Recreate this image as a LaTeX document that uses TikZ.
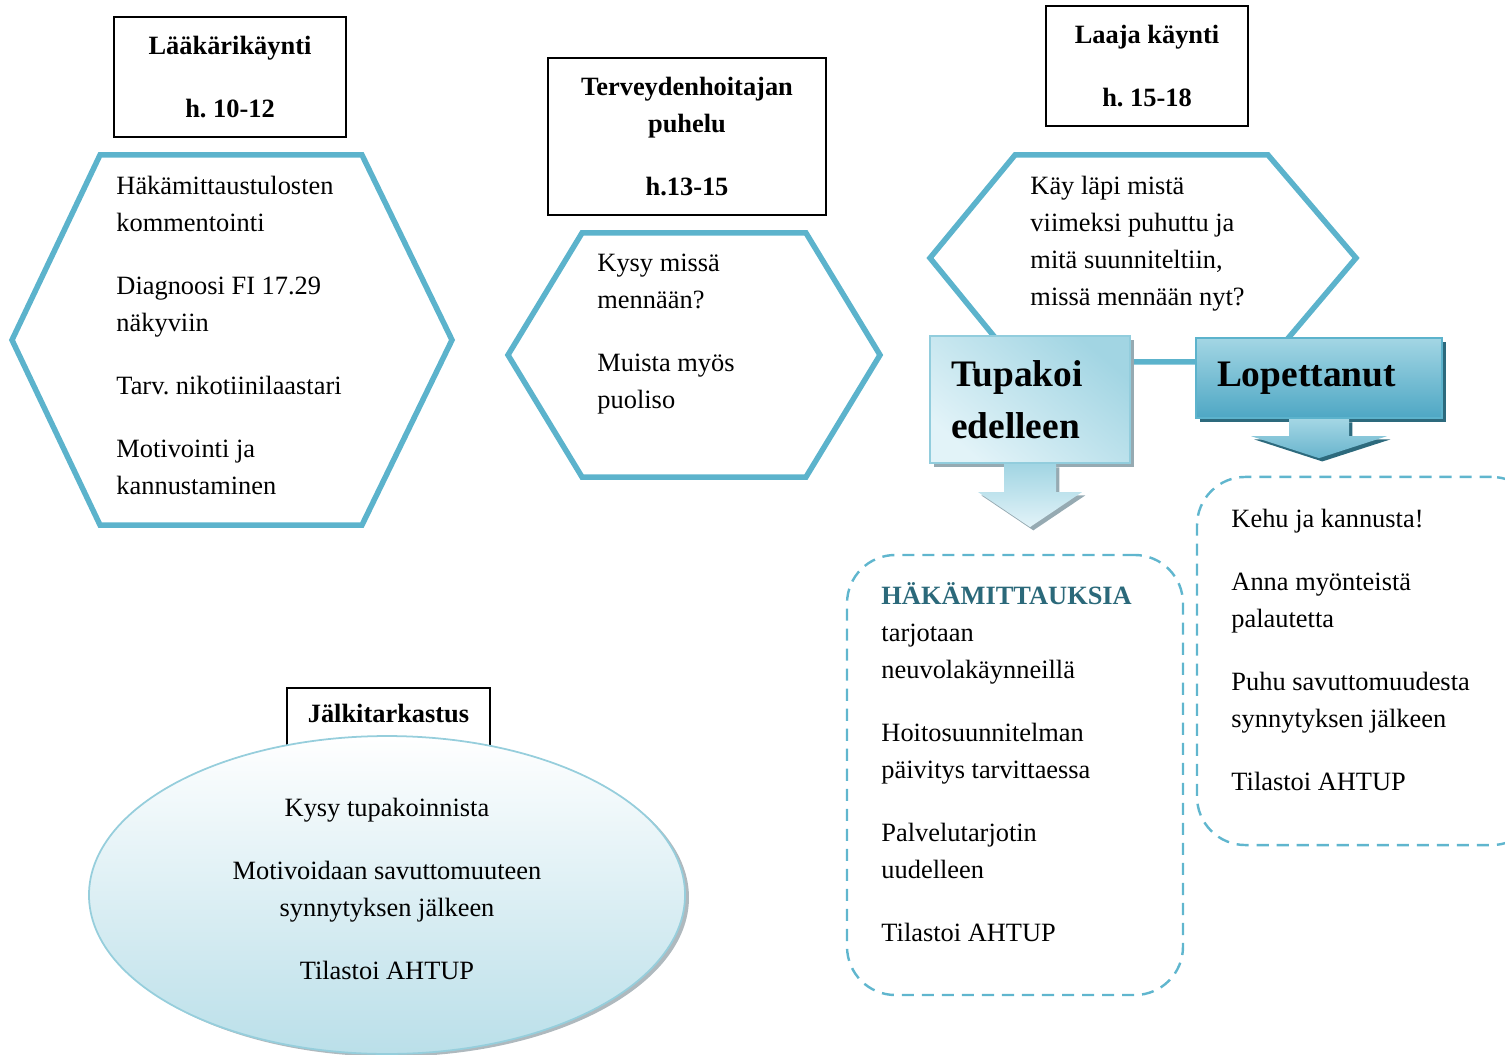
\documentclass[tikz,border=0pt]{standalone}
\usepackage{fontspec}
\setmainfont{Liberation Serif}
\usepackage{tikz}
\usetikzlibrary{positioning}
\usetikzlibrary{calc}
\usetikzlibrary{shapes.geometric}
\usetikzlibrary{shadows}
\frenchspacing

\definecolor{hexline}{RGB}{92,179,204}
\definecolor{katkoline}{RGB}{96,182,206}
\definecolor{otsikkovari}{RGB}{43,105,122}
\definecolor{tupvaalea}{RGB}{226,243,248}
\definecolor{tuptumma}{RGB}{162,213,227}
\definecolor{tupraja}{RGB}{146,205,221}
\definecolor{tupvarjo}{RGB}{150,170,178}
\definecolor{lopylä}{RGB}{163,214,228}
\definecolor{lopala}{RGB}{78,167,196}
\definecolor{lopvarjo}{RGB}{45,106,125}
\definecolor{ellpohja}{RGB}{186,223,233}
\definecolor{ellraja}{RGB}{150,206,220}
\definecolor{ellvarjo}{RGB}{175,185,190}

\newcommand\perus{\fontsize{12}{16.8}\selectfont}

\tikzset{
  otsikko/.style={draw, line width=0.9pt, font=\perus\bfseries, align=center, inner sep=0pt},
  hexa/.style={draw=hexline, line width=2.5pt, line join=miter},
  teksti/.style={font=\perus, align=left, anchor=north west, inner sep=0pt, execute at begin node=\strut},
  katko/.style={draw=katkoline, line width=1.1pt, dash pattern=on 5.5pt off 3.6pt, rounded corners=22pt, inner sep=0pt},
  iso/.style={font=\fontsize{17}{23.6}\selectfont\bfseries, align=left},
}

\begin{document}
\begin{tikzpicture}[x=0.4545pt, y=-0.4545pt]
\useasboundingbox (0,0) rectangle (1505,1055);

\draw[hexa] (12,340) -- (100,155) -- (362,155) -- (452,340) -- (362,525) -- (100,525) -- cycle;
\draw[hexa] (508,355) -- (582,233) -- (806,233) -- (880,355) -- (806,477) -- (582,477) -- cycle;
\draw[hexa] (930,258) -- (1015,155) -- (1268,155) -- (1356,258) -- (1268,362) -- (1015,362) -- cycle;

\node (laak)  [otsikko, minimum width=105.5pt, minimum height=54.5pt] at (230,77)    {Lääkärikäynti\\[11.8pt]h. 10-12};
\node (terv)  [otsikko, minimum width=126.4pt, minimum height=71.4pt] at (687,136.5) {Terveydenhoitajan\\puhelu\\[11.8pt]h.13-15};
\node (laaja) [otsikko, minimum width=91.8pt, minimum height=54.5pt]  at (1147,66)   {Laaja käynti\\[11.8pt]h. 15-18};

\node (hex1) [teksti] at (116,176) {Häkämittaustulosten\\kommentointi\\[11.8pt]Diagnoosi FI 17.29\\näkyviin\\[11.8pt]Tarv. nikotiinilaastari\\[11.8pt]Motivointi ja\\kannustaminen};
\node (hex2) [teksti] at (597,254) {Kysy missä\\mennään?\\[11.8pt]Muista myös\\puoliso};
\node (hex3) [teksti] at (1030,176) {Käy läpi mistä\\viimeksi puhuttu ja\\mitä suunniteltiin,\\missä mennään nyt?};

\node (tup) [iso, draw=tupraja, line width=1pt, top color=tuptumma, bottom color=tupvaalea, shading angle=-40,
  drop shadow={shadow xshift=1.8pt, shadow yshift=-1.8pt, fill=tupvarjo, opacity=1},
  minimum width=90.9pt, minimum height=57.7pt, text width=71.8pt] at (1030,399.5) {Tupakoi\\edelleen};
\node (lop) [iso, draw=hexline, line width=1pt, top color=lopylä, bottom color=lopala,
  drop shadow={shadow xshift=1.8pt, shadow yshift=-1.8pt, fill=lopvarjo, opacity=1},
  minimum width=111.8pt, minimum height=36.4pt, text width=92.7pt] at (1319,378) {Lopettanut};

\path[top color=tuptumma, bottom color=tupvaalea, drop shadow={shadow xshift=1.5pt, shadow yshift=-1.5pt, fill=tupvarjo, opacity=1}]
  ($(tup.south)+(-26,0)$) -- ($(tup.south)+(-26,28)$) -- ++(-26,0) -- ($(tup.south)+(0,63)$)
  -- ($(tup.south)+(52,28)$) -- ++(-26,0) -- ($(tup.south)+(26,0)$) -- cycle;
\path[top color=lopylä, bottom color=lopala!85, drop shadow={shadow xshift=1.5pt, shadow yshift=-1.5pt, fill=lopvarjo, opacity=1}]
  ($(lop.south)+(-30,0)$) -- ($(lop.south)+(-30,17)$) -- ++(-38,0) -- ($(lop.south)+(0,39)$)
  -- ($(lop.south)+(68,17)$) -- ++(-38,0) -- ($(lop.south)+(30,0)$) -- cycle;

\node (haka) [katko, minimum width=152.7pt, minimum height=200pt] at (1015,775) {};
\node (hakateksti) [teksti] at (881,582) {\textcolor{otsikkovari}{\textbf{HÄKÄMITTAUKSIA}}\\tarjotaan\\neuvolakäynneillä\\[11.8pt]Hoitosuunnitelman\\päivitys tarvittaessa\\[11.8pt]Palvelutarjotin\\uudelleen\\[11.8pt]Tilastoi AHTUP};

\node (kehu) [katko, minimum width=155.9pt, minimum height=167.3pt] at (1368.5,661) {};
\node (kehuteksti) [teksti] at (1231,509) {Kehu ja kannusta!\\[11.8pt]Anna myönteistä\\palautetta\\[11.8pt]Puhu savuttomuudesta\\synnytyksen jälkeen\\[11.8pt]Tilastoi AHTUP};

\node (jalkot) [otsikko, anchor=north, minimum width=92.3pt, inner ysep=4pt, text height=11.5pt, text depth=22pt] at (388.5,687) {Jälkitarkastus};
\node (jalk) [ellipse, draw=ellraja, line width=0.8pt, top color=white, bottom color=ellpohja,
  drop shadow={shadow xshift=1.8pt, shadow yshift=-1.2pt, fill=ellvarjo, opacity=1},
  minimum width=270.9pt, minimum height=144.5pt] at (387,895) {};
\node (jalkteksti) [teksti, anchor=north, align=center] at (387,798) {Kysy tupakoinnista\\[11.8pt]Motivoidaan savuttomuuteen\\synnytyksen jälkeen\\[11.8pt]Tilastoi AHTUP};
\end{tikzpicture}
\end{document}
